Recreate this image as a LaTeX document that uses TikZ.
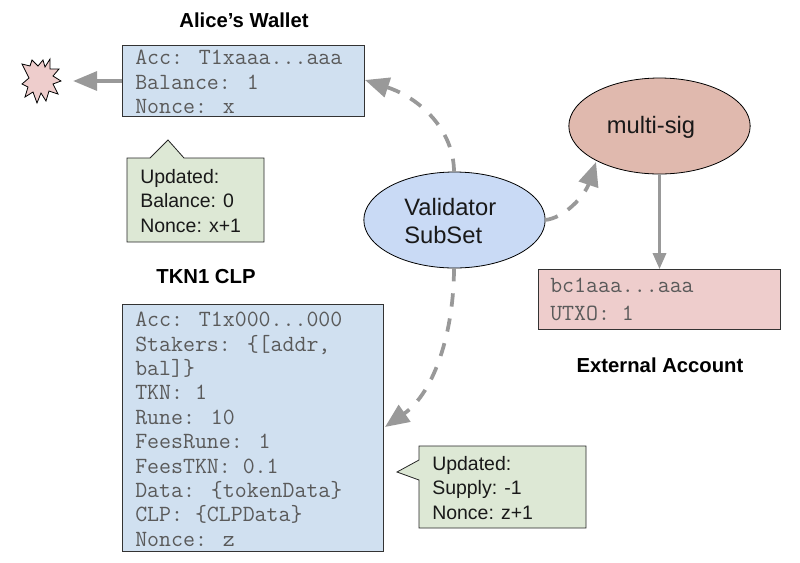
\documentclass[tikz,border=0pt]{standalone}
\usepackage{fontspec}
\setmainfont{Liberation Sans}
\usetikzlibrary{arrows.meta,shapes.geometric,calc}
\definecolor{boxblue}{HTML}{D0E0F0}
\definecolor{boxgreen}{HTML}{DDE8D5}
\definecolor{boxpink}{HTML}{EECDCC}
\definecolor{ellblue}{HTML}{C9DAF5}
\definecolor{ellred}{HTML}{E0B9AE}
\definecolor{linegray}{HTML}{999999}
\definecolor{monotext}{HTML}{5A5A5A}
\tikzset{
  x=0.75pt,y=-0.75pt,
  monobox/.style={draw=black!80,line width=0.6pt,inner sep=0pt,outer sep=0pt},
  monotxt/.style={inner sep=0pt,anchor=north west,align=left,text=monotext,font=\fontsize{17.4}{18.3}\selectfont\ttfamily},
  sanstxt/.style={inner sep=0pt,anchor=north west,align=left,text=black!90,font=\fontsize{14.6}{18.3}\selectfont},
  titletxt/.style={inner sep=0pt,font=\fontsize{15.2}{18}\selectfont\bfseries,text=black},
  ell/.style={ellipse,draw=black,line width=0.6pt,minimum width=136pt,minimum height=72pt,inner sep=0pt,outer sep=0pt},
  elltxt/.style={inner sep=0pt,align=left,font=\fontsize{17.8}{21}\selectfont,text=black!90},
  dashconn/.style={draw=linegray,line width=2.8pt,dash pattern=on 10pt off 9pt,-{Triangle[length=18pt,width=15pt,fill=linegray]}},
  solidconn/.style={draw=linegray,-{Triangle[fill=linegray]}},
  callout/.style={draw=black!85,fill=boxgreen,line width=0.6pt,line join=miter},
}
\begin{document}
\begin{tikzpicture}
\useasboundingbox (0,0) rectangle (800,562);
% boxes
\path[monobox,fill=boxblue] (122,45) rectangle (364,116);
\node[monotxt] (alicetxt) at (135,50) {Acc: T1xaaa...aaa\\Balance: 1\\Nonce: x};
\path[monobox,fill=boxblue] (122,304) rectangle (383,551);
\node[monotxt] (clptxt) at (135,312) {Acc: T1x000...000\\Stakers: \{[addr,\\bal]\}\\TKN: 1\\Rune: 10\\FeesRune: 1\\FeesTKN: 0.1\\Data: \{tokenData\}\\CLP: \{CLPData\}\\Nonce: z};
\path[monobox,fill=boxpink] (538,269) rectangle (780,329);
\node[monotxt,font=\fontsize{17.4}{21}\selectfont\ttfamily] (exttxt) at (550,278) {bc1aaa...aaa\\UTXO: 1};
% callouts
\path[callout] (127,158) -- (150,158) -- (168,140) -- (184,158) -- (264,158) -- (264,242) -- (127,242) -- cycle;
\node[sanstxt] (c1) at (140,169) {Updated:\\Balance: 0\\Nonce: x+1};
\path[callout] (419,446) -- (586,446) -- (586,528) -- (419,528) -- (419,480) -- (397,472) -- (419,460) -- cycle;
\node[sanstxt] (c2) at (432,456) {Updated:\\Supply: -1\\Nonce: z+1};
% ellipses
\node[ell,fill=ellblue] (val) at (454.5,220) {};
\node[elltxt,anchor=west] (valtxt) at (404,221) {Validator\\SubSet};
\node[ell,fill=ellred] (ms) at (659.5,126) {};
\node[elltxt] (mstxt) at (651,127) {multi-sig};
% star
\path[draw=black,fill=boxpink,line width=0.6pt,line join=miter] (22,64)
  -- (30,66) -- (32,60) -- (38,66) -- (43,60) -- (45,67) -- (50,59) -- (50,69) -- (59,69) -- (53,76)
  -- (61,81) -- (53,84) -- (58,94) -- (49,91) -- (46,101) -- (41,93) -- (37,103) -- (33,92) -- (25,97)
  -- (28,87) -- (22,84) -- (29,78) -- cycle;
% titles
\node[titletxt] (t1) at (244,20) {Alice’s Wallet};
\node[titletxt] (t2) at (206,277) {TKN1 CLP};
\node[titletxt] (t3) at (660,365) {External Account};
% connectors
\coordinate (aliceL) at (122,81);
\coordinate (aliceR) at (365,80);
\coordinate (clpR) at (385,427);
\coordinate (valT) at (454,172);
\coordinate (valB) at (454,268);
\coordinate (valR) at (545,220);
\coordinate (msin) at (596,162);
\coordinate (msB) at (659.5,174);
\coordinate (extT) at (659.5,269);
\coordinate (starin) at (73,81);
\draw[solidconn,line width=3pt,-{Triangle[length=18pt,width=14pt,fill=linegray]}] (aliceL) -- (starin);
\draw[dashconn] (valT) .. controls (454,130) and (420,98) .. (aliceR);
\draw[dashconn] (valR) .. controls (565,218) and (585,195) .. (msin);
\draw[dashconn] (valB) .. controls (454,330) and (435,392) .. (clpR);
\draw[solidconn,line width=2pt,-{Triangle[length=12pt,width=10pt,fill=linegray]}] (msB) -- (extT);
\end{tikzpicture}
\end{document}
